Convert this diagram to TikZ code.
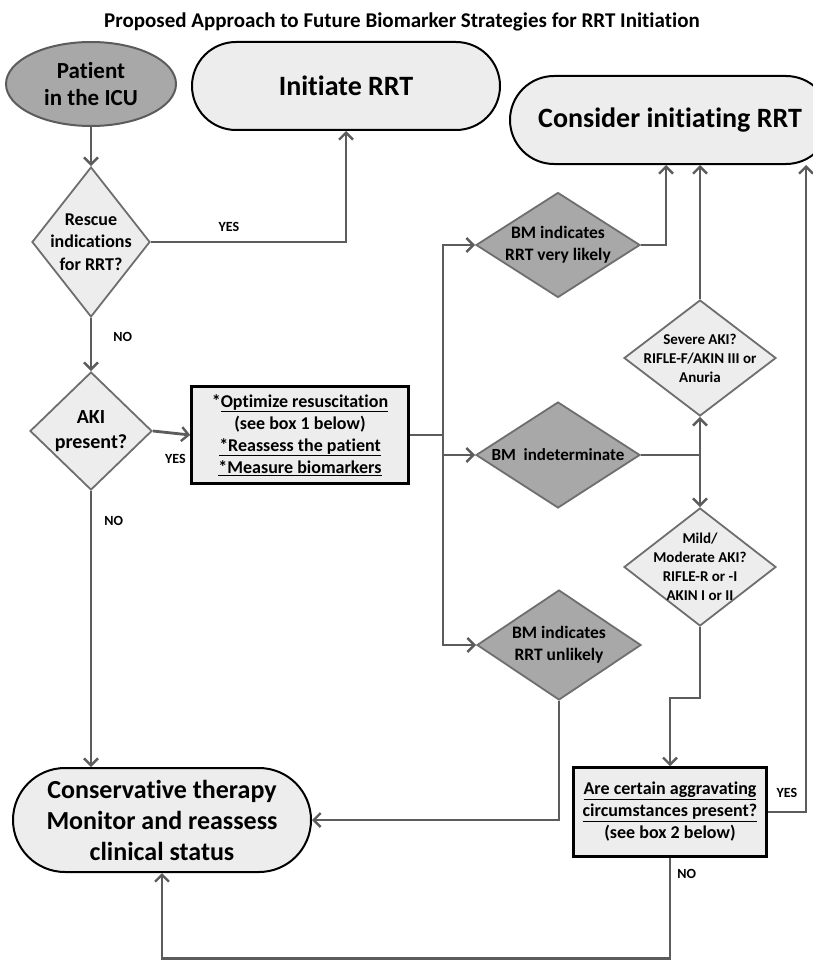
\documentclass[tikz,border=0pt]{standalone}
\usepackage{fontspec}
\setmainfont{Carlito}[Ligatures=NoCommon]
\usepackage{tikz}
\usetikzlibrary{shapes,arrows.meta,positioning}
\definecolor{lightfill}{HTML}{EDEDED}
\definecolor{darkfill}{HTML}{A8A8A8}
\definecolor{linegray}{HTML}{5C5C5C}
\definecolor{edgegray}{HTML}{6E6E6E}

\begin{document}
\begin{tikzpicture}[x=1pt,y=-1pt,font=\bfseries,
    line/.style={draw=linegray,line width=2.8pt},
    conn/.style={line,-{Straight Barb[length=7pt,width=14pt,line width=2.4pt]}},
    title/.style={font=\bfseries\fontsize{21}{25}\selectfont},
    pat/.style={ellipse,draw=linegray,line width=2pt,fill=darkfill,minimum width=170pt,
      minimum height=84pt,align=center,font=\bfseries\fontsize{23}{27}\selectfont},
    term/.style={rectangle,rounded corners=#1,draw=black,line width=2pt,fill=lightfill,align=center},
    box/.style={rectangle,draw=black,line width=2.5pt,fill=lightfill,align=center,
      font=\bfseries\fontsize{18}{22}\selectfont},
    dia/.style={diamond,draw=edgegray,line width=1.8pt,inner sep=0pt},
    dlab/.style 2 args={align=center,font=\bfseries\fontsize{#1}{#2}\selectfont},
    lab/.style={font=\bfseries\fontsize{14}{16}\selectfont,inner sep=1pt}]

    \useasboundingbox (0,0) rectangle (812,963);

    \node[title] (Title) at (402,22) {Proposed Approach to Future Biomarker Strategies for RRT Initiation};

    \node[pat] (ICU) at (91,84) {Patient\\in the ICU};
    \node[term=44pt,minimum width=308pt,minimum height=88pt,
      font=\bfseries\fontsize{28}{32}\selectfont] (Init) at (346,86) {Initiate RRT};
    \node[term=44pt,minimum width=320pt,minimum height=88pt,
      font=\bfseries\fontsize{28}{32}\selectfont] (Consider) at (670,120) {Consider initiating RRT};
    \node[term=52pt,minimum width=298pt,minimum height=104pt,
      font=\bfseries\fontsize{26}{31}\selectfont] (Conserv) at (162,820)
      {Conservative therapy\\Monitor and reassess\\clinical status};

    \node[dia,fill=lightfill,minimum width=118pt,minimum height=150pt,
      label={[dlab={18}{22.5}]center:{Rescue\\indications\\for RRT?}}] (Rescue) at (91,242) {};
    \node[dia,fill=lightfill,minimum width=122pt,minimum height=118pt,
      label={[dlab={20}{25}]center:{AKI\\present?}}] (AKI) at (91,431) {};
    \node[box,minimum width=217pt,minimum height=97pt] (Optimize) at (300,435)
      {*\underline{Optimize resuscitation}\\(see box 1 below)\\\underline{*Reassess the patient}\\\underline{*Measure biomarkers}};

    \node[dia,fill=darkfill,minimum width=164pt,minimum height=105pt,
      label={[dlab={17.5}{22}]center:{BM indicates\\RRT very likely}}] (Likely) at (558,245) {};
    \node[dia,fill=darkfill,minimum width=164pt,minimum height=106pt,
      label={[dlab={17}{22}]center:{BM~ indeterminate}}] (Indet) at (558,455) {};
    \node[dia,fill=darkfill,minimum width=164pt,minimum height=110pt,
      label={[dlab={17.5}{22}]center:{BM indicates\\RRT unlikely}}] (Unlikely) at (559,645) {};

    \node[dia,fill=lightfill,minimum width=152pt,minimum height=116pt,
      label={[dlab={15}{19}]center:{Severe AKI?\\RIFLE-F/AKIN III or\\Anuria}}] (Severe) at (700,358) {};
    \node[dia,fill=lightfill,minimum width=152pt,minimum height=118pt,
      label={[dlab={15}{19}]center:{Mild/\\Moderate AKI?\\RIFLE-R or -I\\AKIN I or II}}] (Mild) at (700,567) {};

    \node[box,minimum width=193pt,minimum height=89pt] (Aggr) at (670,812)
      {\underline{Are certain aggravating}\\\underline{circumstances present?}\\(see box 2 below)};

    \coordinate (Split) at (443,435);
    \coordinate (Fork) at (700,455);
    \coordinate (Yes) at (806,812);

    \draw[conn] (ICU) -- (Rescue);
    \draw[conn] (Rescue.east) -| node[lab,above=8pt,pos=0.2] {YES} (Init.south);
    \draw[conn] (Rescue.south) -- node[lab,right=20pt,pos=0.36] {NO} (AKI.north);
    \draw[conn] (AKI.east) -- node[lab,below=19pt,pos=0.6] {YES} (Optimize.west);
    \draw[conn] (AKI.south) -- node[lab,right=11pt,pos=0.11] {NO} (AKI.south |- Conserv.north);

    \draw[line] (Optimize.east) -- (Split);
    \draw[conn] (Split) |- (Likely.west);
    \draw[conn] (Split) |- (Unlikely.west);
    \draw[conn] (Split |- Indet.west) -- (Indet.west);

    \draw[conn] (Likely.east) -| ([xshift=-4pt]Consider.south);
    \draw[line] (Indet.east) -- (Fork);
    \draw[conn] (Fork) -- (Severe.south);
    \draw[conn] (Fork) -- (Mild.north);
    \draw[conn] (Severe.north) -- (Severe.north |- Consider.south);
    \draw[conn] (Unlikely.south) |- (Conserv.east);

    \draw[conn] (Mild.south) -- ++(0,71) -| (Aggr.north);
    \draw[conn] (Aggr.east) -- node[lab,above=12pt] {YES} (Yes) -- (Yes |- Consider.south);
    \draw[conn] (Aggr.south) -- node[lab,right=5pt,pos=0.16] {NO} ++(0,101) -| (Conserv.south);
  \end{tikzpicture}
\end{document}
